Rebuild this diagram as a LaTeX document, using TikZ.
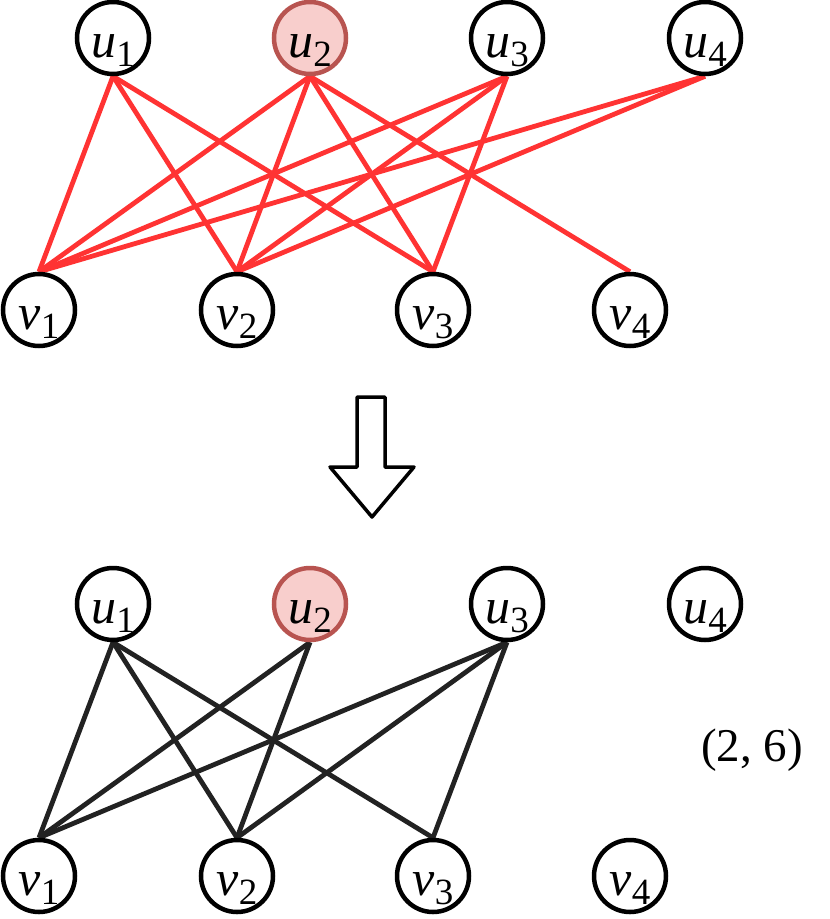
\documentclass[tikz,border=0pt]{standalone}
\usepackage{fontspec}
\setmainfont{Liberation Serif}
\usetikzlibrary{backgrounds}
\definecolor{edgered}{HTML}{FF3333}
\definecolor{hlfill}{HTML}{F8CECC}
\definecolor{hldraw}{HTML}{B85450}
\definecolor{edgeblack}{HTML}{222222}
\newcommand\vlab[2]{\fontsize{50}{50}\selectfont\textit{#1}\raisebox{-9pt}{\fontsize{37}{37}\selectfont #2}}
\tikzset{
  vert/.style={circle, draw=black, line width=4.5pt, fill=white, minimum size=72pt, inner sep=0pt, text height=38pt, text depth=0pt},
  hl/.style={vert, draw=hldraw, fill=hlfill},
  redge/.style={draw=edgered, line width=4.8pt},
  bedge/.style={draw=edgeblack, line width=4.8pt},
  bigarrow/.style={draw=black, line width=3.5pt, line join=round, fill=white}
}
\begin{document}
\begin{tikzpicture}[x=1pt, y=-1pt]
\useasboundingbox (0,0) rectangle (830,919);
% top graph
\node[vert] (a1) at (113,38) {\vlab{u}{1}};
\node[hl]   (a2) at (310,38) {\vlab{u}{2}};
\node[vert] (a3) at (507,38) {\vlab{u}{3}};
\node[vert] (a4) at (705,38) {\vlab{u}{4}};
\node[vert] (b1) at (39,310) {\vlab{v}{1}};
\node[vert] (b2) at (237,310) {\vlab{v}{2}};
\node[vert] (b3) at (433,310) {\vlab{v}{3}};
\node[vert] (b4) at (630,310) {\vlab{v}{4}};
\begin{scope}[on background layer]
\foreach \u/\v in {a1/b1,a1/b2,a1/b3,a2/b1,a2/b2,a2/b3,a2/b4,a3/b1,a3/b2,a3/b3,a4/b1,a4/b2}
  \draw[redge] (\u.south) -- (\v.north);
\end{scope}
% arrow
\draw[bigarrow] (357,397) -- (385,397) -- (385,467) -- (414,467) -- (372,517) -- (330,467) -- (357,467) -- cycle;
% bottom graph
\node[vert] (c1) at (113,604) {\vlab{u}{1}};
\node[hl]   (c2) at (310,604) {\vlab{u}{2}};
\node[vert] (c3) at (507,604) {\vlab{u}{3}};
\node[vert] (c4) at (705,604) {\vlab{u}{4}};
\node[vert] (d1) at (39,876) {\vlab{v}{1}};
\node[vert] (d2) at (237,876) {\vlab{v}{2}};
\node[vert] (d3) at (433,876) {\vlab{v}{3}};
\node[vert] (d4) at (630,876) {\vlab{v}{4}};
\begin{scope}[on background layer]
\foreach \u/\v in {c1/d1,c1/d2,c1/d3,c2/d1,c2/d2,c3/d1,c3/d2,c3/d3}
  \draw[bedge] (\u.south) -- (\v.north);
\end{scope}
\node[font=\fontsize{47}{47}\selectfont, inner sep=0pt] (res) at (752,750) {(2, 6)};
\end{tikzpicture}
\end{document}
